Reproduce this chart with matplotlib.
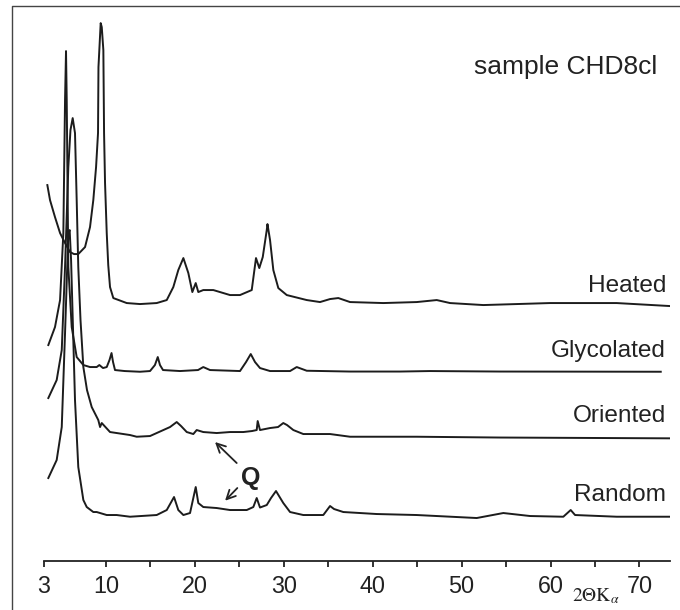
import matplotlib
matplotlib.use("Agg")
import matplotlib.pyplot as plt
from matplotlib.lines import Line2D

plt.rcParams['font.family'] = ['Liberation Sans', 'DejaVu Sans']
plt.rcParams['mathtext.fontset'] = 'stix'

# ---- data (2-theta in degrees, intensity in arbitrary units) ----
heated_2t = [3.40, 3.70, 4.26, 4.83, 5.39, 5.95, 6.40, 6.88, 7.64, 8.20, 8.57, 8.88, 9.10, 9.15,
             9.40, 9.52, 9.70, 9.78, 9.89, 10.08, 10.25, 10.45, 10.82, 12.33, 13.82, 15.70,
             16.83, 17.57, 18.13, 18.70, 19.26, 19.71, 20.09, 20.38, 20.94, 22.07, 23.95,
             25.07, 26.39, 26.87, 27.24, 27.63, 28.08, 28.16, 28.45, 28.82, 29.38, 30.33,
             32.58, 34.07, 35.20, 36.13, 37.45, 41.19, 44.95, 47.20, 48.70, 52.44, 56.20,
             59.94, 63.69, 67.44, 73.44]
heated_int = [120, 105, 88, 72, 62, 53, 51, 51, 58, 78, 105, 138, 172, 238,
              282, 278, 255, 172, 122, 72, 40, 18, 7, 2, 1, 2,
              5, 18, 35, 47, 32, 13, 22, 13, 15, 15, 10,
              10, 15, 47, 37, 48, 75, 81, 65, 35, 17, 10,
              5, 3, 6, 7, 3, 2, 3, 5, 2, 0, 1,
              2, 2, 2, -1]

glyc_2t = [3.51, 4.26, 4.83, 5.20, 5.39, 5.50, 5.58, 5.76, 6.14, 6.70, 7.45, 8.20, 8.95, 9.25,
           9.66, 10.08, 10.39, 10.62, 10.79, 11.01, 12.10, 13.82, 14.95, 15.50, 15.82, 16.07,
           16.41, 18.32, 20.35, 20.94, 21.70, 25.07, 25.75, 26.28, 26.76, 27.32, 28.45,
           30.70, 31.45, 32.58, 37.45, 43.07, 46.45, 54.32, 72.40]
glyc_int = [27, 45, 72, 139, 272, 321, 272, 105, 45, 15, 7, 5, 5, 7,
            4, 5, 12, 19, 10, 2, 1, 0.3, 1, 7, 15, 7,
            2, 1, 2, 5, 2, 1, 10, 18, 10, 4, 1,
            1, 5, 1.3, 0.5, 0.5, 1, 0.5, 0.3]

orient_2t = [3.51, 4.45, 5.02, 5.39, 5.76, 6.00, 6.25, 6.51, 6.70, 6.88, 7.13, 7.45, 7.86, 8.39,
             9.13, 9.33, 9.52, 10.45, 12.70, 13.45, 14.95, 16.45, 17.20, 17.95, 18.44, 19.08,
             19.82, 20.20, 20.94, 22.45, 23.95, 25.44, 26.42, 26.95, 27.06, 27.32, 28.45,
             29.35, 29.94, 30.36, 31.07, 32.19, 35.20, 37.45, 44.95, 54.30, 73.44]
orient_int = [39, 57, 87, 170, 270, 307, 319, 304, 237, 170, 117, 70, 47, 30,
              17, 10, 14, 5, 2, 0.3, 1, 7, 10, 15, 11, 5,
              3, 7, 5, 4, 5, 5, 6, 7, 16, 7, 9,
              10, 14, 12, 7, 3, 3, 0.3, 0.3, -0.5, -1.3]

random_2t = [3.51, 4.45, 5.02, 5.39, 5.76, 5.91, 6.07, 6.29, 6.51, 6.88, 7.45, 7.83, 8.57, 8.95,
             10.08, 11.20, 12.70, 15.70, 16.83, 17.65, 18.13, 18.70, 19.45, 20.09, 20.38,
             20.94, 22.45, 23.95, 25.83, 26.57, 26.95, 27.32, 28.08, 28.56, 29.12, 29.94,
             30.70, 32.19, 34.44, 35.20, 35.65, 36.69, 40.45, 44.95, 51.70, 54.69, 57.70,
             61.44, 62.27, 62.76, 67.44, 73.44]
random_int = [39, 57, 90, 184, 284, 287, 257, 187, 117, 50, 17, 10, 5, 5,
              2, 2, 0.3, 2, 7, 20, 7, 2, 4, 30, 14,
              10, 9, 7, 7, 10, 19, 9.5, 12, 19, 26, 14,
              5, 2, 2, 11, 8, 5, 3, 2, -1, 4, 1,
              0.3, 7, 2, 0.3, 0.3]

trace_names = ["Heated", "Glycolated", "Oriented", "Random"]
trace_offsets = [256, 189, 124, 44]
label_y = [269, 204, 139, 60]

tick_values = [3, 10, 20, 30, 40, 50, 60, 70]
minor_values = [15, 25, 35, 45, 55, 65]

# ---- figure ----
fig = plt.figure(figsize=(6.8, 6.1), dpi=100)
ax = fig.add_axes([0.0644, 0.0803, 0.9209, 0.9097])

series = [(heated_2t, heated_int), (glyc_2t, glyc_int),
          (orient_2t, orient_int), (random_2t, random_int)]
for (tt, ii), off in zip(series, trace_offsets):
    ax.plot(tt, [v + off for v in ii], color='#1c1c1c', lw=1.4,
            solid_joinstyle='round')

for name, yy in zip(trace_names, label_y):
    ax.text(73.0, yy, name, ha='right', va='baseline', fontsize=17.6, color='#222222')

ax.set_xlim(3, 73.44)
ax.set_ylim(0, 555)
ax.set_xticks(tick_values)
ax.set_xticklabels([str(v) for v in tick_values])
ax.set_xticks(minor_values, minor=True)
ax.set_yticks([])
for s in ['top', 'right', 'left']:
    ax.spines[s].set_visible(False)
ax.spines['bottom'].set_linewidth(1.3)
ax.spines['bottom'].set_color('#222222')
ax.tick_params(axis='x', which='both', direction='out', length=4, width=1.3,
               color='#222222', labelsize=16.8, pad=6, labelcolor='#222222')
ax.patch.set_alpha(0)

# Q annotation with arrows
ax.text(26.3, 76, "Q", ha='center', va='baseline', fontsize=18, fontweight='bold',
        color='#222222')
ax.annotate("", xy=(22.26, 119), xytext=(24.70, 98),
            arrowprops=dict(arrowstyle='->', lw=1.3, color='#222222',
                            mutation_scale=16, shrinkA=0, shrinkB=0))
ax.annotate("", xy=(23.39, 60.3), xytext=(24.77, 73),
            arrowprops=dict(arrowstyle='->', lw=1.3, color='#222222',
                            mutation_scale=16, shrinkA=0, shrinkB=0))

# title and axis label
fig.text(0.966, 0.8787, "sample CHD8cl", ha='right', va='baseline', fontsize=19,
         color='#222222')
fig.text(0.8407, 0.0136, r'$2\Theta\mathrm{K}_{\alpha}$', ha='left', va='baseline',
         fontsize=14, color='#222222')

# outer frame (left and top edges)
fig.add_artist(Line2D([12/680, 12/680, 1.0], [0.0, 1 - 6/610, 1 - 6/610],
                      transform=fig.transFigure, color='#444444', lw=1.0))

fig.savefig("out.png", dpi=100)
